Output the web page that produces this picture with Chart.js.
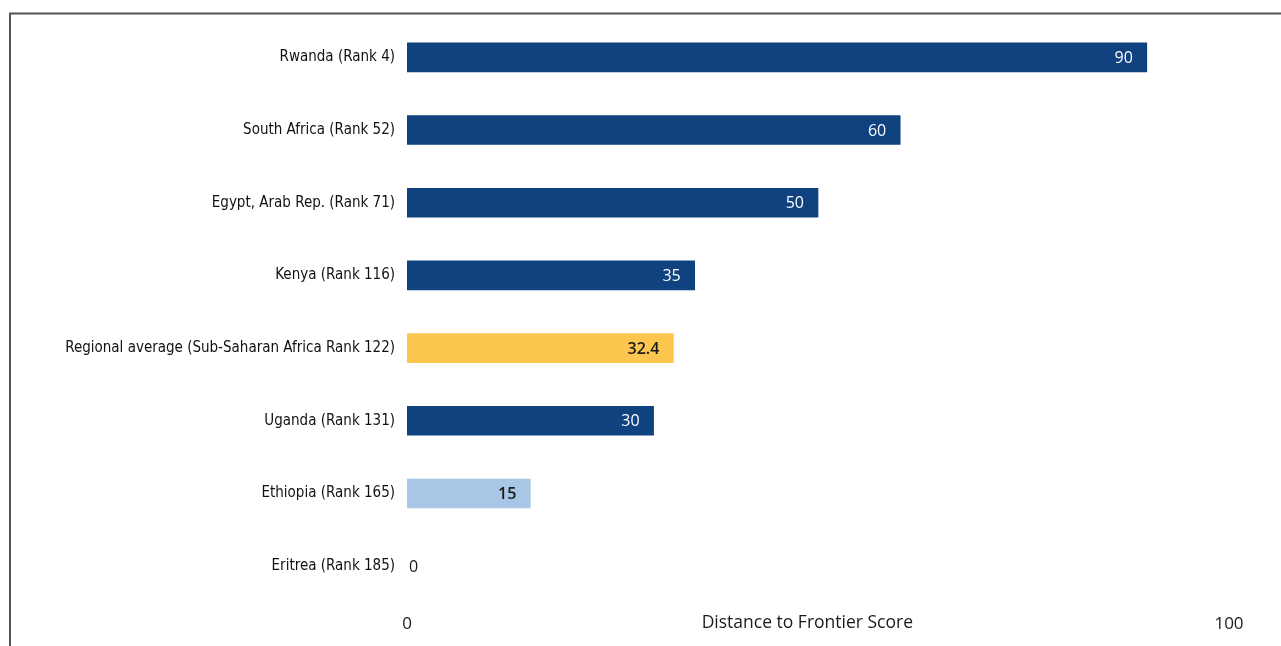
<!DOCTYPE html>
<html><head><meta charset="utf-8">
<script src="https://cdn.jsdelivr.net/npm/chart.js@4"></script>
<style>html,body{margin:0;padding:0;background:#fff;}#wrap{width:1281px;height:646px;position:relative;}</style>
</head><body><div id="wrap"><canvas id="c"></canvas></div>
<script>
const categories = ["Rwanda (Rank 4)","South Africa (Rank 52)","Egypt, Arab Rep. (Rank 71)","Kenya (Rank 116)","Regional average (Sub-Saharan Africa Rank 122)","Uganda (Rank 131)","Ethiopia (Rank 165)","Eritrea (Rank 185)"];
const scores = [90, 60, 50, 35, 32.4, 30, 15, 0];
const valueLabels = ["90","60","50","35","32.4","30","15","0"];
const barColors = ["#0f427f","#0f427f","#0f427f","#0f427f","#fcc64f","#0f427f","#a8c6e6","rgba(0,0,0,0)"];
const labelColors = ["#ffffff","#ffffff","#ffffff","#ffffff","#1a1a1a","#ffffff","#1a1a1a","#1a1a1a"];
const labelWeights = ["400","400","400","400","600","400","600","400"];
const xTicks = [0, 100];
const axisTitle = "Distance to Frontier Score";

const framePlugin = {
  id: 'frame',
  beforeDraw(chart){
    const ctx = chart.ctx;
    ctx.save();
    ctx.strokeStyle = '#555';
    ctx.lineWidth = 2;
    ctx.beginPath();
    ctx.moveTo(10, 646); ctx.lineTo(10, 13.5); ctx.lineTo(1281, 13.5);
    ctx.stroke();
    ctx.restore();
  }
};
const valuePlugin = {
  id: 'values',
  afterDatasetsDraw(chart){
    const ctx = chart.ctx;
    const meta = chart.getDatasetMeta(0);
    ctx.save();
    ctx.textBaseline = 'middle';
    meta.data.forEach((bar, i) => {
      const v = scores[i];
      ctx.fillStyle = labelColors[i];
      ctx.font = labelWeights[i] + ' 16px "Open Sans", sans-serif';
      if (v === 0) { ctx.textAlign = 'left'; ctx.fillText(valueLabels[i], bar.base + 2, bar.y + 1); }
      else { ctx.textAlign = 'right'; ctx.fillText(valueLabels[i], bar.x - 14, bar.y + 1); }
    });
    const xs = chart.scales.x;
    ctx.fillStyle = '#1a1a1a';
    ctx.font = '17.5px "Open Sans", sans-serif';
    ctx.textAlign = 'center';
    ctx.fillText(axisTitle, xs.getPixelForValue(48.7), 623);
    ctx.restore();
  }
};

new Chart(document.getElementById('c'), {
  type: 'bar',
  data: { labels: categories, datasets: [{ data: scores, backgroundColor: barColors, barThickness: 29, borderWidth: 0 }] },
  options: {
    indexAxis: 'y', responsive: true, maintainAspectRatio: false, animation: false,
    layout: { padding: { left: 0, right: 52, top: 18.5, bottom: 0 } },
    plugins: { legend: { display: false }, tooltip: { enabled: false } },
    scales: {
      x: { min: 0, max: 100, afterFit(s){ s.height = 43.5; },
        afterBuildTicks(s){ s.ticks = xTicks.map(v => ({value: v})); },
        grid: { display: false, drawTicks: false }, border: { display: false },
        ticks: { color: '#1a1a1a', padding: 11, font: { family: '"Open Sans", sans-serif', size: 17 } } },
      y: { afterFit(s){ s.width = 407; },
        grid: { display: false, drawTicks: false }, border: { display: false },
        ticks: { color: '#111', padding: 12, font: { family: '"Liberation Sans Narrow", "DejaVu Sans Condensed", sans-serif', size: 15 } } }
    }
  },
  plugins: [framePlugin, valuePlugin]
});
</script></body></html>
